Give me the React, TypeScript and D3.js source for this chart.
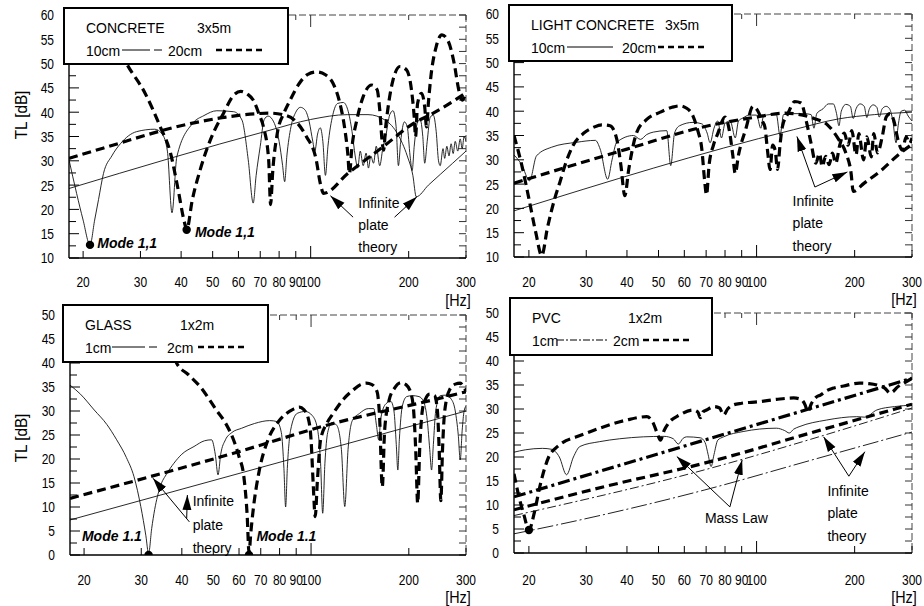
import React from "react";
import * as d3 from "d3";

type Pt = [number, number];

// ---------- tick values ----------
const freqTicks = [20, 30, 40, 50, 60, 70, 80, 90, 100, 200, 300];
const tlTicksConcrete = [10, 15, 20, 25, 30, 35, 40, 45, 50, 55, 60];
const tlTicksPlate = [0, 5, 10, 15, 20, 25, 30, 35, 40, 45, 50];

// ---------- CONCRETE 3x5m ----------
const concrete10Meas: Pt[] = [[18.1,30.2],[19.1,23.3],[20,17.8],[21,12.7],[21.7,17.8],[22.3,22],[23.1,27.4],[24.5,31],[26.1,33.6],[29.2,36],[33.2,36.5],[35,35.5],[36.3,32],[37.5,19.3],[38.8,30.8],[43.4,37.7],[47,39.3],[51.5,40.3],[58,40.1],[61.5,38.4],[64.3,30.2],[66.6,21.3],[68,27],[70,33],[72,38.5],[74,39.2],[77,38],[80,34],[82,29],[83.2,25.7],[84.5,31],[87,37],[90,40],[93,41],[96,40.5],[99,38],[101.5,34],[103,32],[105,35.5],[107,36.8],[109,34],[111,27],[113,33],[117,39.5],[121,41.8],[126,42],[130,40.5],[134,36],[137,31],[139.5,28.5],[142,32],[145,29],[148,31.6],[150.5,28.5],[153,31],[156,29.5],[159,33],[163,29],[166.5,32.5],[170,35],[175,39.5],[179,40.3],[183,37],[186,29],[189,34],[194,38],[198,37],[202,31],[205,28],[208,33],[213,38],[217,38.5],[221,35],[224,29.5],[228,34],[233,39],[238,39.4],[243,36],[247,30],[250,29],[255,32.5],[258,30.5],[262,33],[266,31],[270,33.5],[274,31.5],[278,34],[283,32],[288,34.5],[292,32.5],[296,35],[300,34]];
const concrete20Meas: Pt[] = [[23,60],[25,55],[27.2,50],[31,43.9],[34.5,37],[37.1,31.6],[39,24.7],[41,17.2],[41.6,15.8],[43.3,22],[45.7,28],[49.2,34.3],[54,39.8],[58,43.5],[61,44.3],[64,43.7],[66.6,42.5],[69.5,39.5],[71.6,37],[74.3,30.2],[75.3,21],[76.5,28],[79,35.7],[83,40],[86.5,42.5],[92,45.8],[98,47.8],[104.5,48.3],[111,47.7],[117,46],[123,41.8],[127,37],[130,31.5],[131.5,27.4],[134,33],[138.6,38.4],[145,43.2],[154,45.6],[160,44.6],[163,40.5],[166,33.6],[167.5,32.2],[170,37],[172.5,40.5],[179,46.6],[188,49.4],[197,48.7],[204,44.6],[208,39],[210,35],[213,41.8],[219,43.9],[224,41.1],[227,37],[230,42],[234,47.3],[243,53.5],[253,55.9],[265,54.5],[276,50],[285,44.6],[292,42.5],[300,44]];
const concrete10Inf: Pt[] = [[18.1,24.3],[75,36.3],[100,38.5],[130,39.5],[150,39.5],[170,38.3],[185,35.5],[198,31],[206,27],[211,22.6],[230,25],[250,27.2],[273,29.5],[300,32]];
const concrete20Inf: Pt[] = [[18.1,30.5],[23,32.6],[43,37.7],[55,39],[75,39.8],[82,39.5],[89,38.4],[97,35],[104,30.2],[107,25.4],[109.6,23.3],[130,27.4],[167,32.9],[207,37.7],[238,39.8],[288,43.2],[300,44]];

// ---------- LIGHT CONCRETE 3x5m ----------
const light10Meas: Pt[] = [[18,31],[19,29],[20.1,25.7],[21.1,30.8],[23.5,32.6],[28,33.6],[32,34],[33.1,32.2],[34.9,26],[36,30],[37.2,33.6],[41.9,35],[44,34.2],[46,35.2],[48.2,35.7],[53,36],[54.5,28.8],[56,35.5],[58,37],[63.8,37.7],[67.9,37.4],[70.5,35.5],[72,33.5],[74,36.5],[76,38],[78,34.5],[80,37.5],[83,38],[86,34.5],[88,38],[90.8,38.6],[95,39.2],[100,39.2],[103,36.5],[105,39],[110,39.3],[115,39.3],[118,35],[121,39.3],[130,39.5],[140,39.5],[147,39.3],[150,36.5],[153,39.5],[160,40.5],[166,41.5],[172,41.5],[176,39.5],[179,37],[182,40],[188,41.4],[194,41],[198,38.5],[202,40.5],[208,41.5],[214,41],[218,38.7],[222,40.5],[228,41.3],[234,40.8],[238,38.8],[243,40.5],[250,41],[256,40.5],[262,38],[268,33.5],[272,37],[278,40],[285,40.2],[292,39],[300,38]];
const light20Meas: Pt[] = [[18,35],[19,29],[20,22],[21,15],[21.9,10.3],[22.8,16],[24,22],[24.9,25.4],[26,29.5],[27.3,32.9],[29.5,35.5],[31.6,36.7],[33.5,37.2],[35.5,37],[37.2,34.3],[38.3,29],[39.4,22.6],[40.5,28],[42.9,35.7],[46,38.3],[50.6,39.8],[55,40.8],[58,41.1],[61,40.6],[63.8,39],[66,36],[67.9,32.2],[69.2,26],[70.2,22.8],[71.5,29],[73.7,33],[76,35.4],[80,38.8],[82.5,36],[84.5,31],[86,27.2],[88,31],[92.8,36.5],[97.5,41],[101,40],[104,38],[106,36.8],[108,32],[110,28],[112,33],[114,32],[116,28],[118,33],[120,36.8],[125,39.6],[131,42],[137,41.7],[142,38],[147,33.4],[152,29.3],[156,31.3],[159,28.6],[163,30.7],[167,29],[171,31.4],[175,29.3],[180,33],[186,35.5],[191,33],[196,36],[202,31],[206,35.4],[213,30],[218,34.7],[225,30.6],[229,35.4],[235,31.4],[243,34.7],[250,38.8],[257,39.5],[264,38],[272,34],[280,32],[288,34.7],[295,33.4],[300,34.5]];
const light10Inf: Pt[] = [[18,19.5],[130,36.2],[178,38.4],[230,39.3],[300,39.8]];
const light20Inf: Pt[] = [[18,25.2],[40,32.2],[69,36.8],[100,38.8],[122,39.6],[150,38.5],[165,37.2],[179,34.1],[188,31.4],[195,27.3],[198,23.5],[214,25.2],[242,27.9],[272,31],[300,33.2]];

// ---------- GLASS 1x2m ----------
const glass1Meas: Pt[] = [[18.1,35.4],[19.5,33.5],[21.5,30.2],[23.5,27.2],[25.2,24],[27,20.3],[28.5,16.3],[29.9,10.1],[31,4],[31.6,0.3],[32.3,5.5],[33,9.5],[34.3,14.2],[36,17],[37.8,19.1],[40,21],[43.6,22.6],[47,23.8],[49.4,24],[50.7,21],[51.7,16.7],[52.7,21],[54.5,24],[57,25.5],[61.1,26.4],[67,27.4],[74.6,28],[78.5,27.8],[81,25.5],[82.5,18],[83.5,10],[84.5,18],[86.5,26],[90.6,29.5],[96,29.9],[101,29],[104.5,26.5],[107,19],[108.6,8.7],[110.3,19],[112.5,25.5],[116,27.6],[120,27],[124,22],[127,10.1],[130,22],[134,28],[141,29.5],[150,30.5],[156,30.5],[159,27],[161.5,24],[164,28.5],[170,31.5],[176,32],[180,30],[183,23],[185,17.7],[187,24],[191,31],[197,33],[205,33.2],[215,33],[222,32],[228,28],[232,22],[235,17.7],[238,23],[242,30],[250,33.2],[260,33.3],[270,32.5],[278,30],[284,25],[288,19.8],[292,26],[296,30],[300,31]];
const glass2Meas: Pt[] = [[33,52],[36,45],[38.6,39.9],[42,37.5],[45.5,35.1],[51.1,30.2],[54.5,27.5],[57.7,24],[60,20.5],[62.1,16.3],[63.6,8],[64.4,0.5],[65.3,5],[66.5,10],[69,17],[73.7,24],[79.4,27.8],[84,29.5],[88.3,30.4],[92,30.8],[95,30.3],[98,28.5],[100,24],[101.5,15],[103,8],[104.5,15],[107,24],[112,27.5],[117,29.5],[126,32.5],[135,34.4],[142,35.5],[148,35.8],[154,35.5],[159.7,34],[162.5,29],[165.7,14.2],[168.5,26],[174,32.3],[181,34.8],[189,35.9],[196,35.5],[203,33.7],[207,30],[210,22],[213,10.8],[216,22],[220,30],[224.5,32.3],[232,33.5],[240,33.2],[245,30],[248,22],[251,11.3],[254,22],[258,30],[267,34.4],[278,35.6],[288,35.8],[295,35],[300,34.2]];
const glass1Inf: Pt[] = [[18.1,7.3],[300,30]];
const glass2Inf: Pt[] = [[18.1,11.8],[57.7,21.2],[117,27.4],[237,32.3],[300,34]];

// ---------- PVC 1x2m ----------
const pvc1Meas: Pt[] = [[18,21],[19.5,21.5],[22,21.8],[23.5,21.6],[24.8,20],[26.1,16.3],[27.4,20],[28.7,22.2],[33,23.2],[38,23.8],[44.9,24.2],[52,24.3],[55.5,23.8],[57.5,22.7],[59.5,23.9],[61,24.2],[67.2,24],[69.5,23],[71,20.5],[72.5,18],[74,20.5],[76,23.5],[79.2,24.2],[90.9,25.3],[115,26],[122,25.5],[126,25],[130,25.8],[135,26.3],[164,27.7],[203,28.4],[215,28.3],[234,29.8],[265,30.5],[300,30.8]];
const pvc2Meas: Pt[] = [[18,16.5],[18.6,12],[19.3,8],[20,4.8],[20.8,8.5],[21.6,13.8],[23,20],[24.5,22.2],[26,23.4],[28,24.2],[33,26],[39.9,27.7],[46,28.4],[48.2,27],[49.5,25],[50.7,23.5],[52,25.5],[53.6,27],[58,28.75],[63.8,29.8],[66,29.4],[67.2,28.2],[68.5,29.4],[70.2,29.8],[74,30.5],[77,30.2],[79.2,28.75],[81.5,30],[84.5,30.8],[90,31.2],[101,31.5],[115,32],[130,32.3],[137,32],[141,30.8],[143.6,29.4],[147,31],[152,32.4],[157,32.9],[164,33.8],[171,34.3],[185,34.8],[207,35.4],[220,35.3],[234,35],[248,34.3],[257,33.3],[262,33.6],[270,34.5],[285,35.5],[300,36.4]];
const pvc2Mass: Pt[] = [[18,11.7],[300,36.4]];
const pvc2Inf: Pt[] = [[18,9],[34,13.8],[69,18.7],[157,25.6],[300,31]];
const pvc1Mass: Pt[] = [[18,7.8],[69,17.3],[157,24.3],[300,30.2]];
const pvc1Inf: Pt[] = [[18,4],[25,6],[69,13.1],[150,19.5],[300,25.2]];

// ---------- styles ----------
type Kind = "thin" | "dash" | "dashDot" | "thinDashDot" | "thinLongDashDot";
const lineStyle: Record<Kind, React.SVGProps<SVGPathElement>> = {
  thin: { stroke: "#111", strokeWidth: 0.9 },
  dash: { stroke: "#000", strokeWidth: 3.2, strokeDasharray: "9,5" },
  dashDot: { stroke: "#000", strokeWidth: 3.2, strokeDasharray: "12,4,3,4" },
  thinDashDot: { stroke: "#222", strokeWidth: 1, strokeDasharray: "9,3,2,3" },
  thinLongDashDot: { stroke: "#222", strokeWidth: 1, strokeDasharray: "16,3,2,3" },
};

const FONT = "'Liberation Sans', Arial, Helvetica, sans-serif";

interface Arrow { from: Pt; to: Pt }
interface TextNote { at: Pt; lines: string[]; gap: number; bold?: boolean; italic?: boolean }
interface PanelCfg {
  id: string;
  left: number; right: number; top: number; bottom: number;
  fDomain: [number, number]; yDomain: [number, number];
  yTicks: number[];
  series: { data: Pt[]; kind: Kind }[];
  dots: Pt[];
  arrows: Arrow[];
  notes: TextNote[];
  legend: { x: number; y: number; w: number; h: number; title: string; size: string; sizeX: number;
    a: string; b: string; aLineX: [number, number]; bX: number; bLineX: [number, number]; aKind: "solid" | "solidGap" | "dashDot" };
  titleY: number | null;
  hzY: number;
  tickLabelY: number;
}

const panels: PanelCfg[] = [
  {
    id: "p1", left: 69, right: 466, top: 15, bottom: 258,
    fDomain: [18.1, 300], yDomain: [10, 60], yTicks: tlTicksConcrete,
    series: [
      { data: concrete10Inf, kind: "thin" },
      { data: concrete10Meas, kind: "thin" },
      { data: concrete20Inf, kind: "dash" },
      { data: concrete20Meas, kind: "dash" },
    ],
    dots: [[21, 12.7], [41.6, 15.8]],
    arrows: [
      { from: [135, 18.4], to: [115, 22.8] },
      { from: [181, 18.4], to: [212, 22.6] },
    ],
    notes: [
      { at: [140, 20.3], lines: ["Infinite", "plate", "theory"], gap: 22 },
      { at: [22.1, 12.05], lines: ["Mode 1,1"], gap: 0, bold: true, italic: true },
      { at: [44.1, 14.3], lines: ["Mode 1,1"], gap: 0, bold: true, italic: true },
    ],
    legend: { x: 64, y: 8, w: 224, h: 56, title: "CONCRETE", size: "3x5m", sizeX: 133, a: "10cm", b: "20cm",
      aLineX: [58, 98], bX: 104, bLineX: [152, 201], aKind: "solidGap" },
    titleY: 115, hzY: 306, tickLabelY: 287,
  },
  {
    id: "p2", left: 514, right: 912, top: 14, bottom: 257,
    fDomain: [18, 300], yDomain: [10, 60], yTicks: tlTicksConcrete,
    series: [
      { data: light10Inf, kind: "thin" },
      { data: light10Meas, kind: "thin" },
      { data: light20Inf, kind: "dash" },
      { data: light20Meas, kind: "dash" },
    ],
    dots: [],
    arrows: [
      { from: [151, 24.4], to: [133, 34.8] },
      { from: [151, 24.4], to: [190, 27.5] },
    ],
    notes: [{ at: [129, 20.5], lines: ["Infinite", "plate", "theory"], gap: 22.5 }],
    legend: { x: 509, y: 5, w: 223, h: 56, title: "LIGHT CONCRETE", size: "3x5m", sizeX: 156, a: "10cm", b: "20cm",
      aLineX: [58, 104], bX: 113, bLineX: [149, 199], aKind: "solid" },
    titleY: null, hzY: 305, tickLabelY: 287,
  },
  {
    id: "p3", left: 70, right: 466, top: 315, bottom: 555,
    fDomain: [18.1, 300], yDomain: [0, 50], yTicks: tlTicksPlate,
    series: [
      { data: glass1Inf, kind: "thin" },
      { data: glass1Meas, kind: "thin" },
      { data: glass2Inf, kind: "dash" },
      { data: glass2Meas, kind: "dash" },
    ],
    dots: [[31.6, 0], [64.4, 0]],
    arrows: [
      { from: [42.2, 6.9], to: [32.6, 16] },
      { from: [41.4, 7.6], to: [41.6, 12.5] },
    ],
    notes: [
      { at: [43.2, 10.2], lines: ["Infinite", "plate", "theory"], gap: 23.5 },
      { at: [19.7, 2.9], lines: ["Mode 1.1"], gap: 0, bold: true, italic: true },
      { at: [67.9, 2.9], lines: ["Mode 1.1"], gap: 0, bold: true, italic: true },
    ],
    legend: { x: 63, y: 305, w: 205, h: 57, title: "GLASS", size: "1x2m", sizeX: 117, a: "1cm", b: "2cm",
      aLineX: [49, 94], bX: 104, bLineX: [135, 184], aKind: "solidGap" },
    titleY: 438, hzY: 603, tickLabelY: 585,
  },
  {
    id: "p4", left: 514, right: 912, top: 313, bottom: 553,
    fDomain: [18, 300], yDomain: [0, 50], yTicks: tlTicksPlate,
    series: [
      { data: pvc1Inf, kind: "thinLongDashDot" },
      { data: pvc1Mass, kind: "thinDashDot" },
      { data: pvc1Meas, kind: "thin" },
      { data: pvc2Inf, kind: "dash" },
      { data: pvc2Mass, kind: "dashDot" },
      { data: pvc2Meas, kind: "dash" },
    ],
    dots: [[20, 4.8]],
    arrows: [
      { from: [82.8, 9.6], to: [56.9, 20.1] },
      { from: [82.8, 9.6], to: [90.3, 19.4] },
      { from: [192, 16], to: [160.6, 24.2] },
      { from: [192, 16], to: [215, 21.1] },
    ],
    notes: [
      { at: [69.4, 6.25], lines: ["Mass Law"], gap: 0 },
      { at: [165, 11.9], lines: ["Infinite", "plate", "theory"], gap: 22.5 },
    ],
    legend: { x: 510, y: 298, w: 202, h: 57, title: "PVC", size: "1x2m", sizeX: 118, a: "1cm", b: "2cm",
      aLineX: [47, 97], bX: 103, bLineX: [133, 182], aKind: "dashDot" },
    titleY: null, hzY: 603, tickLabelY: 585,
  },
];

function SText(props: { x: number; y: number; size: number; sx?: number; anchor?: string; bold?: boolean; italic?: boolean; children: React.ReactNode }) {
  const { x, y, size, sx = 1, anchor = "start", bold, italic, children } = props;
  return (
    <text
      transform={`translate(${x},${y}) scale(${sx},1)`}
      fontSize={size}
      fontFamily={FONT}
      textAnchor={anchor as any}
      fontWeight={bold ? "bold" : "normal"}
      fontStyle={italic ? "italic" : "normal"}
      fill="#000"
    >
      {children}
    </text>
  );
}

function Panel({ p }: { p: PanelCfg }) {
  const x = d3.scaleLog().domain(p.fDomain).range([p.left, p.right]);
  const y = d3.scaleLinear().domain(p.yDomain).range([p.bottom, p.top]);
  const line = d3.line<Pt>().x((d) => x(d[0])).y((d) => y(d[1])).curve(d3.curveMonotoneX);
  const minor = d3.range(p.yDomain[0], p.yDomain[1] + 0.01, 2.5);
  const clipId = `clip-${p.id}`;
  const L = p.legend;
  const legRow2 = L.y + 42;
  return (
    <g>
      <defs>
        <clipPath id={clipId}>
          <rect x={p.left} y={p.top} width={p.right - p.left} height={p.bottom - p.top} />
        </clipPath>
      </defs>
      {/* top and right frame */}
      <line x1={p.left} x2={p.right} y1={p.top} y2={p.top} stroke="#444" strokeWidth={1} strokeDasharray="7,3" />
      <line x1={p.right} x2={p.right} y1={p.top} y2={p.bottom} stroke="#444" strokeWidth={1} strokeDasharray="7,3" />
      {/* y ticks left & right */}
      {minor.map((v) => {
        const major = Math.abs(v % 5) < 0.01;
        return (
          <g key={`yt${v}`}>
            <line x1={p.left} x2={p.left + (major ? 10 : 7)} y1={y(v)} y2={y(v)} stroke="#000" strokeWidth={1} />
            <line x1={p.right} x2={p.right - 7} y1={y(v)} y2={y(v)} stroke="#333" strokeWidth={1} />
          </g>
        );
      })}
      {/* x ticks bottom & top */}
      {freqTicks.map((f) => (
        <g key={`xt${f}`}>
          <line x1={x(f)} x2={x(f)} y1={p.bottom} y2={p.bottom - (f === 100 ? 12 : 7)} stroke="#000" strokeWidth={1} />
          <line x1={x(f)} x2={x(f)} y1={p.top} y2={p.top + (f === 100 ? 12 : 5)} stroke="#333" strokeWidth={1} />
        </g>
      ))}
      {/* curves */}
      <g clipPath={`url(#${clipId})`}>
        {p.series.map((s, i) => (
          <path key={i} d={line(s.data) || ""} fill="none" strokeLinejoin="round" {...(lineStyle[s.kind] as any)} />
        ))}
        {p.dots.map((d, i) => (
          <circle key={`d${i}`} cx={x(d[0])} cy={y(d[1])} r={4.2} fill="#000" />
        ))}
      </g>
      {/* axes */}
      <line x1={p.left} x2={p.left} y1={p.top} y2={p.bottom} stroke="#000" strokeWidth={1.4} />
      <line x1={p.left} x2={p.right} y1={p.bottom} y2={p.bottom} stroke="#000" strokeWidth={1.6} />
      {/* tick labels */}
      {p.yTicks.map((v) => (
        <SText key={`yl${v}`} x={p.left - 15} y={y(v) + 5.4} size={15} sx={0.8} anchor="end">{v}</SText>
      ))}
      {freqTicks.map((f) => (
        <SText key={`xl${f}`} x={x(f)} y={p.tickLabelY} size={15} sx={0.8} anchor="middle">{f}</SText>
      ))}
      <SText x={p.right - 8} y={p.hzY} size={16} sx={0.9} anchor="middle">[Hz]</SText>
      {p.titleY !== null && (
        <text
          transform={`translate(27,${p.titleY}) rotate(-90) scale(0.9,1)`}
          fontSize={17}
          fontFamily={FONT}
          textAnchor="middle"
        >
          TL [dB]
        </text>
      )}
      {/* arrows */}
      {p.arrows.map((a, i) => (
        <line key={`a${i}`} x1={x(a.from[0])} y1={y(a.from[1])} x2={x(a.to[0])} y2={y(a.to[1])} stroke="#000" strokeWidth={1} markerEnd="url(#ahead)" />
      ))}
      {/* notes */}
      {p.notes.map((n, i) =>
        n.lines.map((t, j) => (
          <SText key={`n${i}-${j}`} x={x(n.at[0])} y={y(n.at[1]) + j * n.gap} size={14} bold={n.bold} italic={n.italic}>
            {t}
          </SText>
        ))
      )}
      {/* legend */}
      <rect x={L.x} y={L.y} width={L.w} height={L.h} fill="#fff" stroke="#000" strokeWidth={2} />
      <SText x={L.x + 22} y={L.y + 25} size={14}>{L.title}</SText>
      <SText x={L.x + L.sizeX} y={L.y + 25} size={14}>{L.size}</SText>
      <SText x={L.x + 22} y={L.y + 48} size={14}>{L.a}</SText>
      {L.aKind === "solid" && (
        <line x1={L.x + L.aLineX[0]} x2={L.x + L.aLineX[1]} y1={legRow2} y2={legRow2} stroke="#000" strokeWidth={1} />
      )}
      {L.aKind === "solidGap" && (
        <g>
          <line x1={L.x + L.aLineX[0]} x2={L.x + L.aLineX[1] - 12} y1={legRow2} y2={legRow2} stroke="#000" strokeWidth={1} />
          <line x1={L.x + L.aLineX[1] - 8} x2={L.x + L.aLineX[1]} y1={legRow2} y2={legRow2} stroke="#000" strokeWidth={1} />
        </g>
      )}
      {L.aKind === "dashDot" && (
        <line x1={L.x + L.aLineX[0]} x2={L.x + L.aLineX[1]} y1={legRow2} y2={legRow2} stroke="#000" strokeWidth={1} strokeDasharray="7,2,2,2" />
      )}
      <SText x={L.x + L.bX} y={L.y + 48} size={14}>{L.b}</SText>
      <line x1={L.x + L.bLineX[0]} x2={L.x + L.bLineX[1]} y1={legRow2} y2={legRow2} stroke="#000" strokeWidth={2.5} strokeDasharray="6,4" />
    </g>
  );
}

export default function App() {
  return (
    <svg
      width={924}
      height={606}
      viewBox="0 0 924 606"
      style={{ position: "absolute", left: 0, top: 0, background: "#fff" }}
    >
      <defs>
        <marker id="ahead" markerUnits="userSpaceOnUse" markerWidth={16} markerHeight={10} refX={15} refY={5} orient="auto">
          <path d="M0,0.5 L15,5 L0,9.5 Z" fill="#000" />
        </marker>
      </defs>
      <rect x={0} y={0} width={924} height={606} fill="#fff" />
      {panels.map((p) => (
        <Panel key={p.id} p={p} />
      ))}
    </svg>
  );
}
